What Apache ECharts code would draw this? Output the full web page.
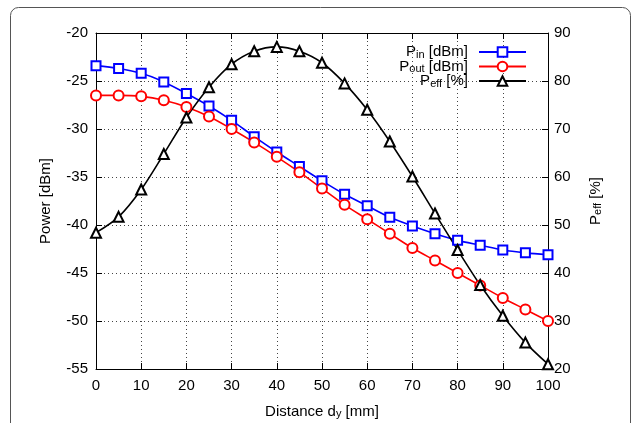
<!DOCTYPE html>
<html>
<head>
<meta charset="utf-8">
<script src="https://cdn.jsdelivr.net/npm/echarts@6/dist/echarts.min.js"></script>
<style>html,body{margin:0;padding:0;background:#fff}#c{width:632px;height:423px}</style>
</head>
<body>
<div id="c"></div>
<script>
const distance = [0,5,10,15,20,25,30,35,40,45,50,55,60,65,70,75,80,85,90,95,100];
const pIn  = [-23.4,-23.7,-24.2,-25.1,-26.3,-27.6,-29.1,-30.8,-32.4,-33.9,-35.4,-36.8,-38.0,-39.2,-40.1,-40.9,-41.6,-42.1,-42.6,-42.9,-43.1];
const pOut = [-26.5,-26.5,-26.6,-27.0,-27.7,-28.7,-30.0,-31.4,-32.9,-34.5,-36.2,-37.9,-39.4,-40.9,-42.4,-43.7,-45.0,-46.3,-47.6,-48.8,-50.0];
const pEff = [48.4,51.7,57.4,64.8,72.4,78.7,83.5,86.2,87.1,86.2,83.8,79.5,74.0,67.4,60.1,52.4,44.8,37.5,31.1,25.5,21.0];
const xTicks = {min:0, max:100, interval:10};
const leftTicks = {min:-55, max:-20, interval:5};
const rightTicks = {min:20, max:90, interval:10};

const FONT = 'Liberation Sans';
const rich = {
  a:{fontFamily:FONT,fontSize:15,color:'#000',lineHeight:16},
  s:{fontFamily:FONT,fontSize:11,color:'#000',verticalAlign:'bottom',lineHeight:8,padding:[11,0,0,0]}
};
const chart = echarts.init(document.getElementById('c'));
const pair = (xs, ys) => xs.map((x,i)=>[x, ys[i]]);
chart.setOption({
  animation:false,
  textStyle:{fontFamily:FONT},
  graphic:[{type:'rect',shape:{x:10.5,y:7.5,width:620,height:440,r:8},style:{fill:'none',stroke:'#555',lineWidth:1},silent:true}],
  grid:{left:96,right:84,top:33,bottom:54,outerBoundsMode:'none',containLabel:false},
  legend:{
    orient:'vertical', align:'right', right:100, top:33,
    itemWidth:47, itemHeight:12, itemGap:-7.5,
    textStyle:{rich:rich, padding:[0,6,0,0]},
    data:[
      {name:'{a|P}{s|in}{a| [dBm]}'},
      {name:'{a|P}{s|out}{a| [dBm]}'},
      {name:'{a|P}{s|eff}{a| [%]}'}
    ]
  },
  xAxis:[{
    type:'value', min:xTicks.min, max:xTicks.max, interval:xTicks.interval,
    axisLine:{onZero:false,lineStyle:{color:'#000',width:1}},
    axisTick:{inside:true,length:6,lineStyle:{color:'#000'}},
    axisLabel:{color:'#000',fontSize:15,fontFamily:FONT,margin:9},
    splitLine:{show:true,lineStyle:{color:'#444',type:[1,3],width:1}},
    name:'{a|Distance d}{s|y}{a| [mm]}', nameLocation:'middle', nameGap:27,
    nameTextStyle:{rich:rich}
  },{
    type:'value', position:'top', min:xTicks.min, max:xTicks.max, interval:xTicks.interval,
    axisLine:{onZero:false,lineStyle:{color:'#000',width:1}},
    axisTick:{inside:true,length:6,lineStyle:{color:'#000'}},
    axisLabel:{show:false}, splitLine:{show:false}
  }],
  yAxis:[{
    type:'value', min:leftTicks.min, max:leftTicks.max, interval:leftTicks.interval,
    axisLine:{show:true,onZero:false,lineStyle:{color:'#000',width:1}},
    axisTick:{show:true,inside:true,length:6,lineStyle:{color:'#000'}},
    axisLabel:{color:'#000',fontSize:15,fontFamily:FONT,margin:8},
    splitLine:{show:true,lineStyle:{color:'#444',type:[1,3],width:1}},
    name:'Power [dBm]', nameLocation:'middle', nameGap:43,
    nameTextStyle:{color:'#000',fontSize:15,fontFamily:FONT}
  },{
    type:'value', position:'right', min:rightTicks.min, max:rightTicks.max, interval:rightTicks.interval,
    axisLine:{show:true,onZero:false,lineStyle:{color:'#000',width:1}},
    axisTick:{show:true,inside:true,length:6,lineStyle:{color:'#000'}},
    axisLabel:{color:'#000',fontSize:15,fontFamily:FONT,margin:6},
    splitLine:{show:false},
    name:'{a|P}{s|eff}{a| [%]}', nameLocation:'middle', nameGap:36, nameRotate:90,
    nameTextStyle:{rich:rich}
  }],
  series:[
    {name:'{a|P}{s|in}{a| [dBm]}', type:'line', xAxisIndex:0, yAxisIndex:0, data:pair(distance,pIn),
     smooth:0.3, symbol:'emptyRect', symbolSize:9, color:'#0000ff',
     lineStyle:{color:'#0000ff',width:1.6}, itemStyle:{color:'#0000ff',borderColor:'#0000ff',borderWidth:1.6}},
    {name:'{a|P}{s|out}{a| [dBm]}', type:'line', xAxisIndex:0, yAxisIndex:0, data:pair(distance,pOut),
     smooth:0.3, symbol:'emptyCircle', symbolSize:10, color:'#ff0000',
     lineStyle:{color:'#ff0000',width:1.6}, itemStyle:{color:'#ff0000',borderColor:'#ff0000',borderWidth:1.6}},
    {name:'{a|P}{s|eff}{a| [%]}', type:'line', xAxisIndex:0, yAxisIndex:1, data:pair(distance,pEff),
     smooth:0.3, symbol:'emptyTriangle', symbolSize:10, color:'#000',
     lineStyle:{color:'#000',width:1.6}, itemStyle:{color:'#000',borderColor:'#000',borderWidth:1.8}}
  ]
});
</script>
</body>
</html>
